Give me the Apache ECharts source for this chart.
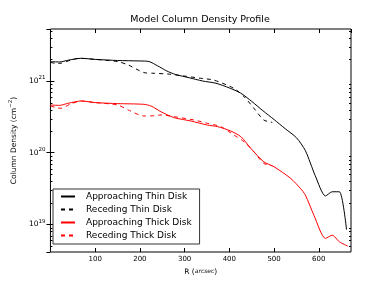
<!DOCTYPE html>
<html>
<head>
<meta charset="utf-8">
<script src="https://cdn.jsdelivr.net/npm/echarts@6/dist/echarts.min.js"></script>
<style>html,body{margin:0;padding:0;background:#fff}#c{width:390px;height:294px}</style>
</head>
<body>
<div id="c"></div>
<script>
// ---- data ----
const R_thinApp = [0,20,40,68,100,150,200,220,240,260,280,310,340,370,400,425,450,475,500,525,550,570,592,615,630,646,662];
const N_thinApp = [1.86e21,1.84e21,1.95e21,2.07e21,2.0e21,1.93e21,1.9e21,1.87e21,1.62e21,1.38e21,1.23e21,1.11e21,1.0e21,9.3e20,8.0e20,6.8e20,5.2e20,3.85e20,2.9e20,2.16e20,1.62e20,1.07e20,4.8e19,2.5e19,2.86e19,2.86e19,8.5e18];

const R_thinRec = [0,12,24,45,64,100,151,174,209,232,263,300,336,365,410,433,455,477,496];
const N_thinRec = [1.82e21,1.76e21,1.77e21,1.95e21,2.07e21,2.0e21,1.86e21,1.67e21,1.31e21,1.28e21,1.25e21,1.17e21,1.09e21,1.03e21,7.9e20,6.04e20,4.16e20,2.86e20,2.65e20];

const R_thickApp = [0,20,40,69,100,150,209,225,247,277,314,351,374,403,426,448,477,500,537,559,570,589,615,630,646,665];
const N_thickApp = [4.62e20,4.57e20,4.9e20,5.26e20,5.0e20,4.84e20,4.73e20,4.48e20,3.73e20,3.08e20,2.77e20,2.43e20,2.31e20,2.01e20,1.67e20,1.15e20,7.48e19,6.38e19,4.4e19,3.18e19,2.57e19,1.35e19,6.4e18,7.1e18,5.74e18,5.0e18];

const R_thickRec = [0,12,24,45,69,100,151,174,209,232,247,277,321,351,381,410,433,455,477,496];
const N_thickRec = [4.48e20,4.27e20,4.16e20,4.79e20,5.26e20,5.0e20,4.62e20,3.94e20,3.25e20,3.28e20,3.36e20,3.18e20,2.86e20,2.57e20,2.31e20,1.77e20,1.42e20,1.03e20,7.11e19,6.59e19];

const seriesNames = ['Approaching Thin Disk','Receding Thin Disk','Approaching Thick Disk','Receding Thick Disk'];
const xTicks = [100,200,300,400,500,600];
const yMajorTicks = [1e19,1e20,1e21];
const yMinorTicks = [5e18,6e18,7e18,8e18,9e18,2e19,3e19,4e19,5e19,6e19,7e19,8e19,9e19,2e20,3e20,4e20,5e20,6e20,7e20,8e20,9e20,2e21,3e21,4e21,5e21];

const X_MIN = 0, X_MAX = 672;
const Y_MIN = 4.14e18, Y_MAX = 5.3e21;

const pairs = (r, n) => r.map((x, i) => [x, n[i]]);
const FONT = 'DejaVu Sans';
const DASH = [4, 4];

const chart = echarts.init(document.getElementById('c'), null, {renderer: 'canvas'});

function yLabel(v) {
  for (const t of yMajorTicks) {
    if (Math.abs(v - t) / t < 1e-6) {
      return '{b|10}{s|' + Math.round(Math.log10(t)) + '}';
    }
  }
  return '';
}
function xLabel(v) {
  return xTicks.indexOf(v) >= 0 ? String(v) : '';
}

const lineSeries = (name, data, color, type) => ({
  name, type: 'line', data, showSymbol: false, symbol: 'circle',
  smooth: 0.25,
  lineStyle: {color, width: 1, type},
  itemStyle: {color},
  animation: false, z: 3
});

chart.setOption({
  animation: false,
  backgroundColor: '#fff',
  title: {
    text: 'Model Column Density Profile',
    left: 200, top: 15, textAlign: 'center', padding: 0,
    textStyle: {fontFamily: FONT, fontSize: 9.5, fontWeight: 'normal', color: '#000'}
  },
  grid: {left: 49, right: 39, top: 29, bottom: 42, show: true, borderColor: '#000', borderWidth: 1, containLabel: false},
  legend: {
    orient: 'vertical', left: 53, top: 189,
    data: seriesNames,
    itemWidth: 14, itemHeight: 10, itemGap: 4,
    padding: [3, 8, 4, 7],
    borderColor: '#333', borderWidth: 1, backgroundColor: '#fff',
    itemStyle: {opacity: 0},
    textStyle: {fontFamily: FONT, fontSize: 9, color: '#000', padding: [0, 0, 0, 6]},
    selectedMode: false
  },
  xAxis: [{
    type: 'value', min: X_MIN, max: X_MAX, interval: 100,
    axisLine: {show: false}, splitLine: {show: false},
    axisTick: {show: true, inside: true, length: 4, lineStyle: {color: '#000'}},
    axisLabel: {formatter: xLabel, fontFamily: FONT, fontSize: 7, color: '#000', margin: 4, showMinLabel: false, showMaxLabel: false},
    name: '{a|R (}{i|arcsec}{a|)}', nameLocation: 'middle', nameGap: 14,
    nameTextStyle: {rich: {a: {fontFamily: FONT, fontSize: 7.5, color: '#000'}, i: {fontFamily: FONT, fontSize: 6, fontStyle: 'italic', color: '#000'}}}
  }, {
    type: 'value', position: 'top', min: X_MIN, max: X_MAX, interval: 100,
    axisLine: {show: false}, splitLine: {show: false},
    axisTick: {show: true, inside: true, length: 4, lineStyle: {color: '#000'}},
    axisLabel: {show: false}
  }],
  yAxis: [{
    type: 'log', logBase: 10, min: Y_MIN, max: Y_MAX,
    axisLine: {show: false}, splitLine: {show: false},
    axisTick: {show: true, inside: true, length: 4, lineStyle: {color: '#000'}},
    minorTick: {show: false},
    axisLabel: {formatter: yLabel, margin: 5, color: '#000', showMinLabel: false, showMaxLabel: false,
      rich: {b: {fontFamily: FONT, fontSize: 7.5, color: '#000'},
             s: {fontFamily: FONT, fontSize: 5.5, color: '#000', padding: [0, 0, 6, 0]}}},
    name: 'Column Density (cm{s|−2})', nameLocation: 'middle', nameGap: 27,
    nameTextStyle: {fontFamily: FONT, fontSize: 7.5, color: '#000',
      rich: {s: {fontFamily: FONT, fontSize: 5.5, color: '#000', padding: [0, 0, 6, 0]}}}
  }, {
    type: 'log', logBase: 10, min: Y_MIN, max: Y_MAX, position: 'right',
    axisLine: {show: false}, splitLine: {show: false},
    axisTick: {show: true, inside: true, length: 4, lineStyle: {color: '#000'}},
    axisLabel: {show: false}
  }],
  series: [
    lineSeries(seriesNames[0], pairs(R_thinApp, N_thinApp), '#000', 'solid'),
    lineSeries(seriesNames[1], pairs(R_thinRec, N_thinRec), '#000', DASH),
    lineSeries(seriesNames[2], pairs(R_thickApp, N_thickApp), '#ff0000', 'solid'),
    lineSeries(seriesNames[3], pairs(R_thickRec, N_thickRec), '#ff0000', DASH),
    {
      type: 'custom', name: 'minorTicks', silent: true, clip: false, z: 4,
      xAxisIndex: 0, yAxisIndex: 0,
      data: yMinorTicks.map(v => [X_MIN, v]),
      renderItem: function (params, api) {
        const v = api.value(1);
        const L = api.coord([X_MIN, v]);
        const Rp = api.coord([X_MAX, v]);
        const y = Math.round(L[1]) + 0.5;
        return {type: 'group', children: [
          {type: 'line', shape: {x1: L[0], y1: y, x2: L[0] + 2, y2: y}, style: {stroke: '#000', lineWidth: 1}},
          {type: 'line', shape: {x1: Rp[0] - 2, y1: y, x2: Rp[0], y2: y}, style: {stroke: '#000', lineWidth: 1}}
        ]};
      }
    }
  ]
});
</script>
</body>
</html>
